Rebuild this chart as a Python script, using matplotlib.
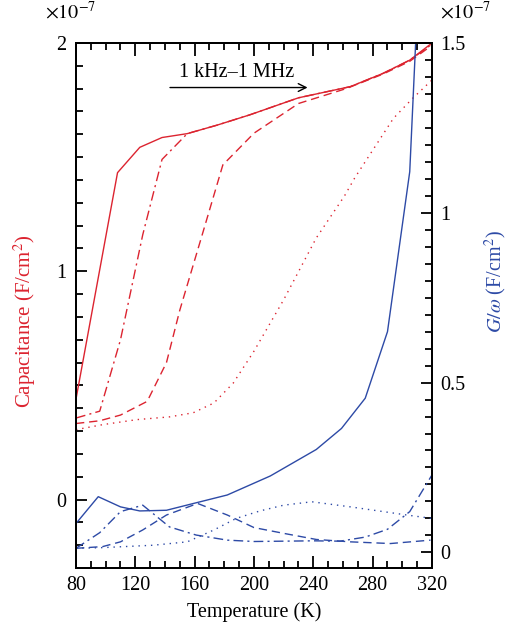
import matplotlib
matplotlib.use("Agg")
import matplotlib.pyplot as plt
from matplotlib.ticker import MultipleLocator, FixedLocator

plt.rcParams['font.family'] = ['Liberation Serif', 'DejaVu Serif']
plt.rcParams['mathtext.fontset'] = 'stix'

RED = '#dc2430'
BLUE = '#2d4aa6'

# Capacitance curves (units of 1e-7 F/cm^2), left axis
T_c_solid = [80, 108, 123, 138, 155, 175, 197, 230, 265, 287, 305, 320]
C_solid = [0.44, 1.432, 1.543, 1.586, 1.603, 1.64, 1.685, 1.76, 1.809, 1.867, 1.925, 2.0]

T_c_dashdot = [80, 96, 110, 125, 138, 155, 175, 197, 230, 265, 287, 305, 320]
C_dashdot = [0.357, 0.387, 0.70, 1.16, 1.49, 1.603, 1.64, 1.685, 1.76, 1.809, 1.867, 1.925, 1.995]

T_c_dash = [80, 96, 110, 128, 141, 150, 166, 179, 200, 230, 262, 287, 305, 320]
C_dash = [0.333, 0.345, 0.37, 0.43, 0.60, 0.83, 1.18, 1.466, 1.605, 1.735, 1.80, 1.864, 1.92, 1.99]

T_c_dot = [80, 98, 121, 143, 159, 173, 186, 200, 220, 242, 261, 268, 294, 307, 320]
C_dot = [0.306, 0.328, 0.35, 0.362, 0.38, 0.423, 0.51, 0.65, 0.875, 1.146, 1.33, 1.41, 1.67, 1.758, 1.838]

# G/omega curves (units of 1e-7 F/cm^2), right axis
T_g_solid = [80, 95, 110, 123, 141, 161, 182, 211, 242, 259, 275, 290, 305, 320]
G_solid = [0.085, 0.164, 0.134, 0.122, 0.124, 0.146, 0.169, 0.225, 0.303, 0.365, 0.454, 0.650, 1.121, 2.55]

T_g_dashdot = [80, 96, 110, 125, 143, 161, 182, 200, 240, 258, 275, 290, 305, 320]
G_dashdot = [0.012, 0.058, 0.12, 0.139, 0.075, 0.051, 0.036, 0.032, 0.034, 0.033, 0.045, 0.068, 0.12, 0.228]

T_g_dash = [80, 98, 110, 125, 141, 162, 182, 200, 220, 242, 265, 292, 319]
G_dash = [0.012, 0.017, 0.031, 0.066, 0.11, 0.144, 0.11, 0.073, 0.056, 0.038, 0.031, 0.026, 0.036]

T_g_dot = [80, 98, 132, 155, 173, 188, 204, 220, 239, 265, 292, 303, 320]
G_dot = [0.012, 0.014, 0.021, 0.031, 0.066, 0.10, 0.122, 0.139, 0.149, 0.134, 0.117, 0.11, 0.10]

fig = plt.figure(figsize=(5.09, 6.29), dpi=100)
ax = fig.add_axes([0.1493, 0.0970, 0.6994, 0.8346])
ax2 = ax.twinx()

lw = 1.0
ax.plot(T_c_solid, C_solid, color=RED, lw=lw, ls='-')
ax.plot(T_c_dashdot, C_dashdot, color=RED, lw=lw, ls=(0, (7, 3, 1.5, 3)))
ax.plot(T_c_dash, C_dash, color=RED, lw=lw, ls=(0, (6, 3.5)))
ax.plot(T_c_dot, C_dot, color=RED, lw=lw, ls=(0, (1, 3.5)))

ax2.plot(T_g_solid, G_solid, color=BLUE, lw=lw, ls='-')
ax2.plot(T_g_dashdot, G_dashdot, color=BLUE, lw=lw, ls=(0, (7, 3, 1.5, 3)))
ax2.plot(T_g_dash, G_dash, color=BLUE, lw=lw, ls=(0, (6, 3.5)))
ax2.plot(T_g_dot, G_dot, color=BLUE, lw=lw, ls=(0, (1, 3.5)))

ax.set_xlim(80, 320)
ax.set_ylim(-0.3, 2.0)
ax2.set_ylim(-0.046, 1.5)

ax.xaxis.set_major_locator(MultipleLocator(40))
ax.xaxis.set_minor_locator(MultipleLocator(10))
ax.yaxis.set_major_locator(FixedLocator([0, 1, 2]))
ax.yaxis.set_minor_locator(MultipleLocator(0.1))
ax2.yaxis.set_major_locator(FixedLocator([0, 0.5, 1, 1.5]))
ax2.yaxis.set_minor_locator(MultipleLocator(0.05))
ax.set_yticklabels(['0', '1', '2'])
ax2.set_yticklabels(['0', '0.5', '1', '1.5'])

fs = 14.5
ax.tick_params(axis='x', which='both', direction='in', top=True, bottom=True, labelsize=fs, width=1.3, pad=6)
ax.tick_params(axis='x', which='major', length=9)
ax.tick_params(axis='x', which='minor', length=5)
ax.tick_params(axis='y', which='both', direction='in', left=True, right=False, labelsize=fs, width=1.3, pad=7)
ax.tick_params(axis='y', which='major', length=8)
ax.tick_params(axis='y', which='minor', length=5)
ax2.tick_params(axis='y', which='both', direction='in', right=True, left=False, labelsize=fs, width=1.3, pad=6)
ax2.tick_params(axis='y', which='major', length=8)
ax2.tick_params(axis='y', which='minor', length=5)

for a in (ax, ax2):
    for s in a.spines.values():
        s.set_linewidth(1.4)

ax.set_xlabel('Temperature (K)', fontsize=fs, labelpad=5)
ax.set_ylabel('Capacitance (F/cm$^2$)', fontsize=fs + 0.5, color=RED)
ax.yaxis.set_label_coords(-0.108, 0.47)
ax2.set_ylabel(r'$G/\omega$ (F/cm$^2$)', fontsize=fs, color=BLUE, rotation=90)
ax2.yaxis.set_label_coords(1.143, 0.545)

fig.text(0.088, 0.962, r'$\times 10^{-7}$', fontsize=fs, ha='left', va='bottom')
fig.text(0.865, 0.962, r'$\times 10^{-7}$', fontsize=fs, ha='left', va='bottom')

ax.annotate('', xy=(238, 1.805), xytext=(141.5, 1.805),
            arrowprops=dict(arrowstyle='->', color='black', lw=1.0, mutation_scale=14))
ax.text(188, 1.873, '1 kHz–1 MHz', fontsize=fs, ha='center', va='center')

fig.savefig('out.png', dpi=100)
